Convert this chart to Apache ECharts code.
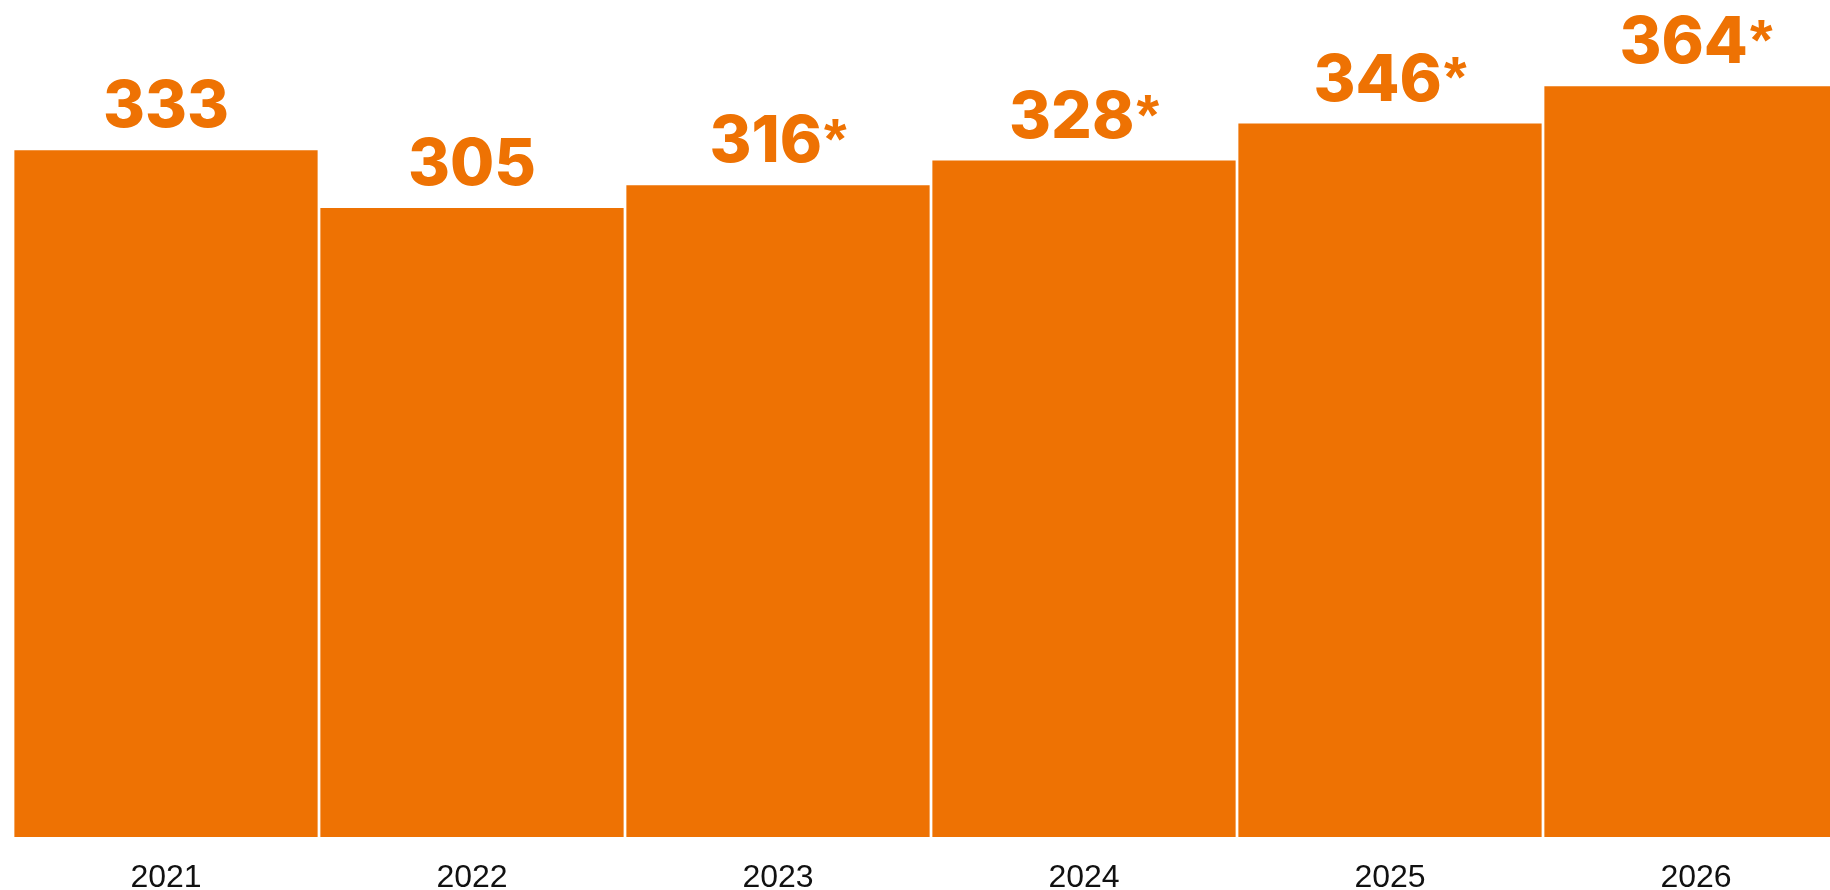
<!DOCTYPE html>
<html>
<head>
<meta charset="utf-8">
<script src="https://cdn.jsdelivr.net/npm/echarts@6/dist/echarts.min.js"></script>
<style>
html,body{margin:0;padding:0;background:#fff;}
#chart{width:1830px;height:890px;}
</style>
</head>
<body>
<div id="chart"></div>
<script>
const years = ['2021', '2022', '2023', '2024', '2025', '2026'];
const values = [333, 305, 316, 328, 346, 364];
const labelSuffix = ['', '', '*', '*', '*', '*'];

const chart = echarts.init(document.getElementById('chart'), null, {renderer: 'canvas'});
const orange = '#EE7203';
chart.setOption({
  animation: false,
  backgroundColor: '#ffffff',
  grid: {left: 13, width: 1836, top: 12, bottom: 53, containLabel: false, outerBoundsMode: 'none'},
  xAxis: {
    type: 'category',
    data: years,
    axisLine: {show: false},
    axisTick: {show: false},
    axisLabel: {
      color: '#111111',
      fontFamily: 'Liberation Sans, Arial, sans-serif',
      fontSize: 32,
      lineHeight: 32,
      margin: 25
    }
  },
  yAxis: {
    type: 'value',
    min: 0,
    max: 400,
    show: false,
    splitLine: {show: false}
  },
  series: [{
    type: 'bar',
    data: values,
    barCategoryGap: '0.9%',
    itemStyle: {color: orange},
    label: {
      show: true,
      position: 'top',
      distance: 10,
      color: orange,
      fontFamily: 'Inter, Liberation Sans, Arial, sans-serif',
      fontWeight: 800,
      fontSize: 64,
      lineHeight: 64,
      formatter: p => '{n|' + p.value + '}' + (labelSuffix[p.dataIndex] ? '{a|' + labelSuffix[p.dataIndex] + '}' : ''),
      rich: {
        n: {
          color: orange,
          fontFamily: 'Inter, Liberation Sans, Arial, sans-serif',
          fontWeight: 800,
          fontSize: 64,
          lineHeight: 64
        },
        a: {
          color: orange,
          fontFamily: 'Liberation Sans, Arial, sans-serif',
          fontWeight: 'bold',
          fontSize: 58,
          lineHeight: 64,
          padding: [0, 0, 0, 2]
        }
      }
    }
  }]
});
</script>
</body>
</html>
